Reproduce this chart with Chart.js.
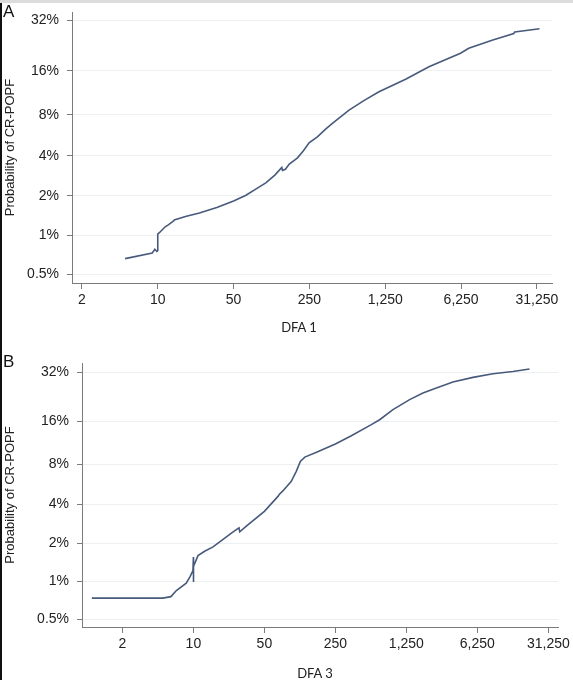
<!DOCTYPE html>
<html>
<head>
<meta charset="utf-8">
<title>Probability of CR-POPF by DFA</title>
<script src="https://cdn.jsdelivr.net/npm/chart.js@4.4.1/dist/chart.umd.min.js"></script>
<style>
  body { margin: 0; background: #fff; width: 573px; height: 680px; position: relative; overflow: hidden;
         font-family: "Liberation Sans", Arial, sans-serif; }
  #topbar { position: absolute; left: 0; top: 0; width: 573px; height: 3px; background: #dcdcdc; }
  #leftbar { position: absolute; left: 0; top: 3px; width: 2px; height: 677px; background: #111; }
  .panel { position: absolute; left: 0; width: 573px; height: 340px; }
  .tag { position: absolute; left: 3px; font-size: 17px; color: #111; line-height: 1; }
  .xtitle { position: absolute; font-family: Lato, "Open Sans", sans-serif; font-size: 13px; color: #222;
            transform: translate(-50%, -50%); white-space: nowrap; }
</style>
</head>
<body>
<div id="topbar"></div>
<div id="leftbar"></div>

<div class="panel" style="top:0"><canvas id="chartA"></canvas></div>
<div class="panel" style="top:340px"><canvas id="chartB"></canvas></div>

<div class="tag" style="top:3px">A</div>
<div class="tag" style="top:353px">B</div>
<div class="xtitle" style="left:299px; top:327px">DFA 1</div>
<div class="xtitle" style="left:315px; top:673px">DFA 3</div>

<script>
// panel A : DFA 1 (x) vs probability in % (y)
const dfa1X = [5.0, 8.9, 9.4, 9.8, 10.0, 10.0, 10.4, 11.7, 12.5, 13.9, 14.2, 18, 24.2, 35, 50, 65, 80, 99,
               120, 139, 141, 150, 163, 194, 220, 248, 296, 350, 407, 579, 800, 1093, 1925, 3157, 6170,
               7350, 12050, 19100, 19500, 32980];
const dfa1P = [0.66, 0.73, 0.78, 0.75, 0.76, 1.02, 1.05, 1.16, 1.20, 1.28, 1.31, 1.39, 1.48, 1.63, 1.83, 2.02,
               2.25, 2.51, 2.87, 3.28, 3.12, 3.18, 3.48, 3.87, 4.37, 5.0, 5.54, 6.27, 6.93, 8.64, 10.1, 11.6,
               14.1, 17.0, 20.7, 22.2, 24.8, 27.1, 27.6, 28.8];

// panel B : DFA 3
const dfa3X = [1.0, 5.0, 6.0, 6.8, 8.5, 9.3, 9.9, 10.0, 10.0, 10.05, 11.1, 12.9, 15.6, 24.6, 28.1, 28.6, 33.2,
               50, 68, 70, 76, 92, 103, 113, 125, 163, 250, 359, 565, 682, 922, 1346, 1820, 2467, 3590,
               5660, 8900, 14000, 20400];
const dfa3P = [0.74, 0.74, 0.76, 0.85, 0.97, 1.10, 1.22, 1.56, 0.99, 1.32, 1.60, 1.73, 1.87, 2.45, 2.63, 2.45,
               2.71, 3.53, 4.59, 4.75, 5.05, 5.97, 7.08, 8.38, 9.0, 9.74, 11.17, 12.77, 15.2, 16.4, 19.1, 22.1,
               24.25, 26.0, 28.15, 29.9, 31.3, 32.2, 33.2];

const xTicks = [2, 10, 50, 250, 1250, 6250, 31250];
const xTickLabels = ["2", "10", "50", "250", "1,250", "6,250", "31,250"];
const yTicks = [0.5, 1, 2, 4, 8, 16, 32];
const yTickLabels = ["0.5%", "1%", "2%", "4%", "8%", "16%", "32%"];

const lineColor = "#475a7b";
const axisColor = "#7b7b7b";
const gridColor = "#edf0f3";
const tickFont = { family: "'Liberation Sans', Arial, sans-serif", size: 14 };

// y axis is on a logit scale
function logit(pct) {
  const p = pct / 100;
  return Math.log(p / (1 - p));
}

function makeChart(id, xs, ps, o) {
  const pts = xs.map((x, i) => ({ x: x, y: logit(ps[i]) }));
  return new Chart(document.getElementById(id), {
    type: "line",
    data: {
      datasets: [{
        data: pts,
        borderColor: lineColor,
        borderWidth: 1.6,
        pointRadius: 0,
        tension: 0,
        fill: false
      }]
    },
    options: {
      responsive: true,
      maintainAspectRatio: false,
      animation: false,
      layout: { padding: { top: o.padTop, right: o.padRight, left: 0, bottom: 0 } },
      plugins: { legend: { display: false }, tooltip: { enabled: false } },
      scales: {
        x: {
          type: "logarithmic",
          min: o.xMin,
          max: o.xMax,
          afterBuildTicks: s => { s.ticks = xTicks.map(v => ({ value: v })); },
          afterFit: s => { s.height = o.xHeight; s.paddingLeft = 0; s.paddingRight = 0; },
          ticks: {
            autoSkip: false, maxRotation: 0, padding: 3,
            color: "#222", font: tickFont,
            callback: (v, i) => xTickLabels[i]
          },
          grid: { drawOnChartArea: false, tickLength: 6, tickColor: axisColor },
          border: { display: true, color: axisColor, width: 1 }
        },
        y: {
          type: "linear",
          min: logit(o.yMin),
          max: logit(o.yMax),
          afterBuildTicks: s => { s.ticks = yTicks.map(v => ({ value: logit(v) })); },
          afterFit: s => { s.width = o.yWidth; s.paddingTop = 0; s.paddingBottom = 0; },
          ticks: {
            autoSkip: false, padding: 8,
            color: "#222", font: tickFont,
            callback: (v, i) => yTickLabels[i]
          },
          grid: { color: gridColor, lineWidth: 1, tickLength: 5, tickColor: axisColor },
          border: { display: true, color: axisColor, width: 1 },
          title: {
            display: true,
            text: "Probability of CR-POPF",
            color: "#222",
            font: { family: "'Liberation Sans', Arial, sans-serif", size: 13 },
            padding: { top: 3, bottom: 0 }
          }
        }
      }
    }
  });
}

makeChart("chartA", dfa1X, dfa1P, {
  xMin: 1.62, xMax: 43000, yMin: 0.428, yMax: 35.3,
  padTop: 12, padRight: 21, yWidth: 72, xHeight: 57
});

makeChart("chartB", dfa3X, dfa3P, {
  xMin: 0.8, xMax: 38900, yMin: 0.437, yMax: 35.7,
  padTop: 23, padRight: 15, yWidth: 82, xHeight: 53
});
</script>
</body>
</html>
